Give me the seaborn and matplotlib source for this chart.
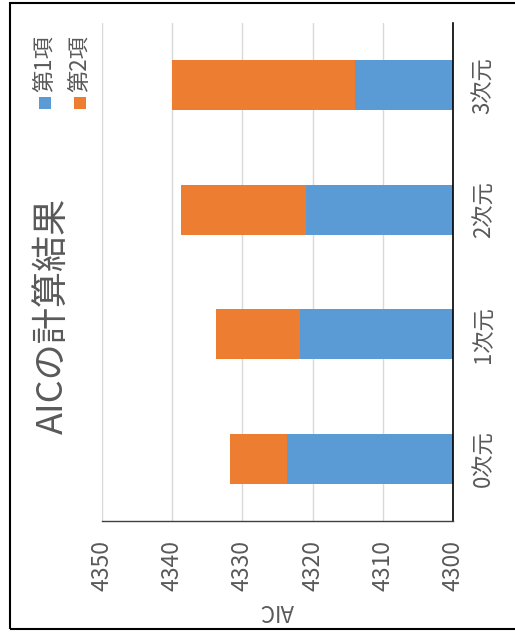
import matplotlib
matplotlib.use("Agg")
import matplotlib.pyplot as plt
from matplotlib.patches import Rectangle
import seaborn as sns
import pandas as pd

# ---- data ----
categories = ["0次元", "1次元", "2次元", "3次元"]
term1 = [4323.7, 4321.8, 4320.9, 4314.0]
term2 = [8.0, 12.0, 17.9, 26.0]
series_names = ["第1項", "第2項"]
value_ticks = [4300, 4310, 4320, 4330, 4340, 4350]
title_text = "AICの計算結果"
value_label = "AIC"

BLUE = "#5B9BD5"
ORANGE = "#ED7D31"
GRAY = "#595959"
GRID = "#D9D9D9"

sns.set_style("white")
plt.rcParams["font.family"] = ["Noto Sans CJK JP", "DejaVu Sans"]

df = pd.DataFrame({"dim": categories, "t1": term1, "t2": term2})
df["total"] = df["t1"] + df["t2"]
order = categories[::-1]  # 0次元 at bottom

W, H = 515, 632
fig = plt.figure(figsize=(W / 100, H / 100), dpi=100)
ax = fig.add_axes([102 / W, 1 - 521 / H, (453 - 102) / W, (521 - 23) / H])

sns.barplot(data=df, x="total", y="dim", order=order, color=ORANGE,
            saturation=1, width=0.4, linewidth=0, ax=ax, orient="h", errorbar=None)
sns.barplot(data=df, x="t1", y="dim", order=order, color=BLUE,
            saturation=1, width=0.4, linewidth=0, ax=ax, orient="h", errorbar=None)

ax.set_xlim(value_ticks[-1], value_ticks[0])
ax.set_xticks(value_ticks)
ax.set_xticklabels([str(v) for v in value_ticks], rotation=90, color=GRAY, fontsize=16.5)
ax.xaxis.grid(True, color=GRID, linewidth=1)
ax.yaxis.grid(False)
ax.set_axisbelow(True)
ax.set_xlabel("")
ax.set_ylabel("")

ax.yaxis.tick_right()
ax.set_yticklabels(order, rotation=90, color=GRAY, fontsize=16, va="center")
ax.tick_params(axis="y", length=0, pad=14)
ax.tick_params(axis="x", length=0, pad=14)

for s in ["top", "left"]:
    ax.spines[s].set_visible(False)
ax.spines["right"].set_visible(True)
ax.spines["right"].set_color("black")
ax.spines["right"].set_linewidth(1.2)
ax.spines["bottom"].set_visible(True)
ax.spines["bottom"].set_color("#404040")
ax.spines["bottom"].set_linewidth(1.0)

# title (rotated)
fig.text(53 / W, 1 - 316 / H, title_text, rotation=90, ha="center", va="center",
         fontsize=26, color=GRAY)
# value axis label (upside down)
fig.text(277 / W, 1 - 610 / H, value_label, rotation=180, ha="center", va="center",
         fontsize=16, color=GRAY)

# legend (rotated)
leg_colors = [BLUE, ORANGE]
leg_x = [45, 80]
for name, col, xc in zip(series_names, leg_colors, leg_x):
    fig.add_artist(Rectangle(((xc - 6) / W, 1 - 109 / H), 12 / W, 12 / H,
                             transform=fig.transFigure, facecolor=col, edgecolor="none"))
    fig.text(xc / W, 1 - 92 / H, name, rotation=90, ha="center", va="bottom",
             fontsize=16, color=GRAY)

# outer frame
fig.add_artist(Rectangle((10 / W, 3.5 / H), 520 / W, (629.5 - 3.5) / H,
                         transform=fig.transFigure, facecolor="none",
                         edgecolor="black", linewidth=1.5, clip_on=False))

fig.savefig("out.png", dpi=100)
